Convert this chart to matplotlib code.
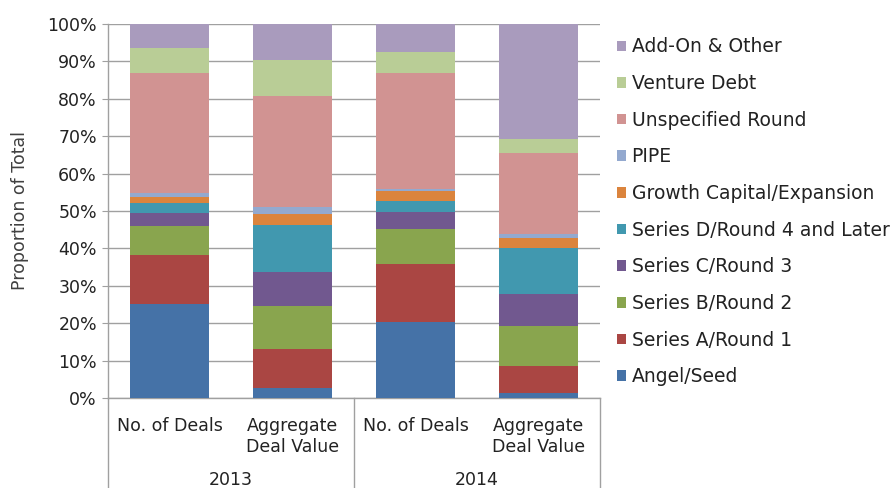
import numpy as np
import matplotlib
matplotlib.use("Agg")
import matplotlib.pyplot as plt
from matplotlib.patches import Patch
from matplotlib.transforms import blended_transform_factory

# categories (bottom -> top of each stack)
series_names = [
    "Angel/Seed",
    "Series A/Round 1",
    "Series B/Round 2",
    "Series C/Round 3",
    "Series D/Round 4 and Later",
    "Growth Capital/Expansion",
    "PIPE",
    "Unspecified Round",
    "Venture Debt",
    "Add-On & Other",
]
colors = ["#4572A7", "#AA4643", "#89A54E", "#71588F", "#4198AF",
          "#DB843D", "#93A9CF", "#D19392", "#B9CD96", "#A99BBD"]

bar_labels = ["No. of Deals", "Aggregate\nDeal Value", "No. of Deals", "Aggregate\nDeal Value"]
years = ["2013", "2014"]

# proportions (%) per bar
deals_2013 = [25.2, 13.0, 7.9, 3.4, 2.6, 1.65, 1.05, 32.2, 6.5, 6.5]
value_2013 = [2.7, 10.3, 11.7, 9.05, 12.5, 2.95, 2.0, 29.6, 9.5, 9.7]
deals_2014 = [20.3, 15.5, 9.4, 4.5, 3.0, 2.6, 0.7, 30.8, 5.6, 7.6]
value_2014 = [1.25, 7.25, 10.7, 8.5, 12.5, 2.6, 1.0, 21.6, 3.8, 30.8]

data = np.array([deals_2013, value_2013, deals_2014, value_2014]).T
data = data / data.sum(axis=0) * 100

W, H, dpi = 892, 488, 100
fig = plt.figure(figsize=(W / dpi, H / dpi), dpi=dpi)
ax = fig.add_axes([108 / W, (H - 398) / H, 492 / W, 374 / H])

fs = 12.5
grey = "#a0a0a0"
x = np.arange(len(bar_labels))
bottom = np.zeros(len(bar_labels))
for name, vals, c in zip(series_names, data, colors):
    ax.bar(x, vals, bottom=bottom, width=0.64, color=c, linewidth=0, zorder=3)
    bottom += vals

ax.set_xlim(-0.5, 3.5)
ax.set_ylim(0, 100)
ax.set_yticks(np.arange(0, 101, 10))
ax.set_yticklabels([f"{v}%" for v in range(0, 101, 10)], fontsize=fs, color="#222222")
ax.yaxis.grid(True, color=grey, linewidth=1, zorder=0)
ax.tick_params(axis="y", length=4, color=grey, pad=4)
ax.set_ylabel("Proportion of Total", fontsize=fs, color="#404040", labelpad=13)

ax.set_xticks(x)
ax.set_xticklabels(bar_labels, fontsize=fs, color="#222222", linespacing=1.2)
ax.tick_params(axis="x", length=0, pad=14)

for s in ["top", "right"]:
    ax.spines[s].set_visible(False)
for s in ["left", "bottom"]:
    ax.spines[s].set_color(grey)
    ax.spines[s].set_linewidth(1)

# year group labels and separators below the axis
trans = blended_transform_factory(ax.transData, ax.transAxes)
y_bottom = -90 / 374
for xs in [-0.5, 1.5, 3.5]:
    ax.plot([xs, xs], [0, y_bottom], transform=trans, color=grey,
            linewidth=1, clip_on=False)
for i, yr in enumerate(years):
    ax.text(2 * i + 0.5, -82 / 374, yr, transform=trans, ha="center",
            va="center", fontsize=fs, color="#222222")

handles = [Patch(facecolor=c, edgecolor="none", label=n)
           for n, c in zip(series_names, colors)][::-1]
leg = fig.legend(handles=handles, loc="upper left",
                 bbox_to_anchor=(609 / W, 1 - 30 / H), frameon=False,
                 fontsize=13.5, handlelength=0.5, handleheight=0.5,
                 handletextpad=0.3, labelspacing=0.94, borderaxespad=0)
for t in leg.get_texts():
    t.set_color("#222222")

fig.savefig("out.png", dpi=dpi)
